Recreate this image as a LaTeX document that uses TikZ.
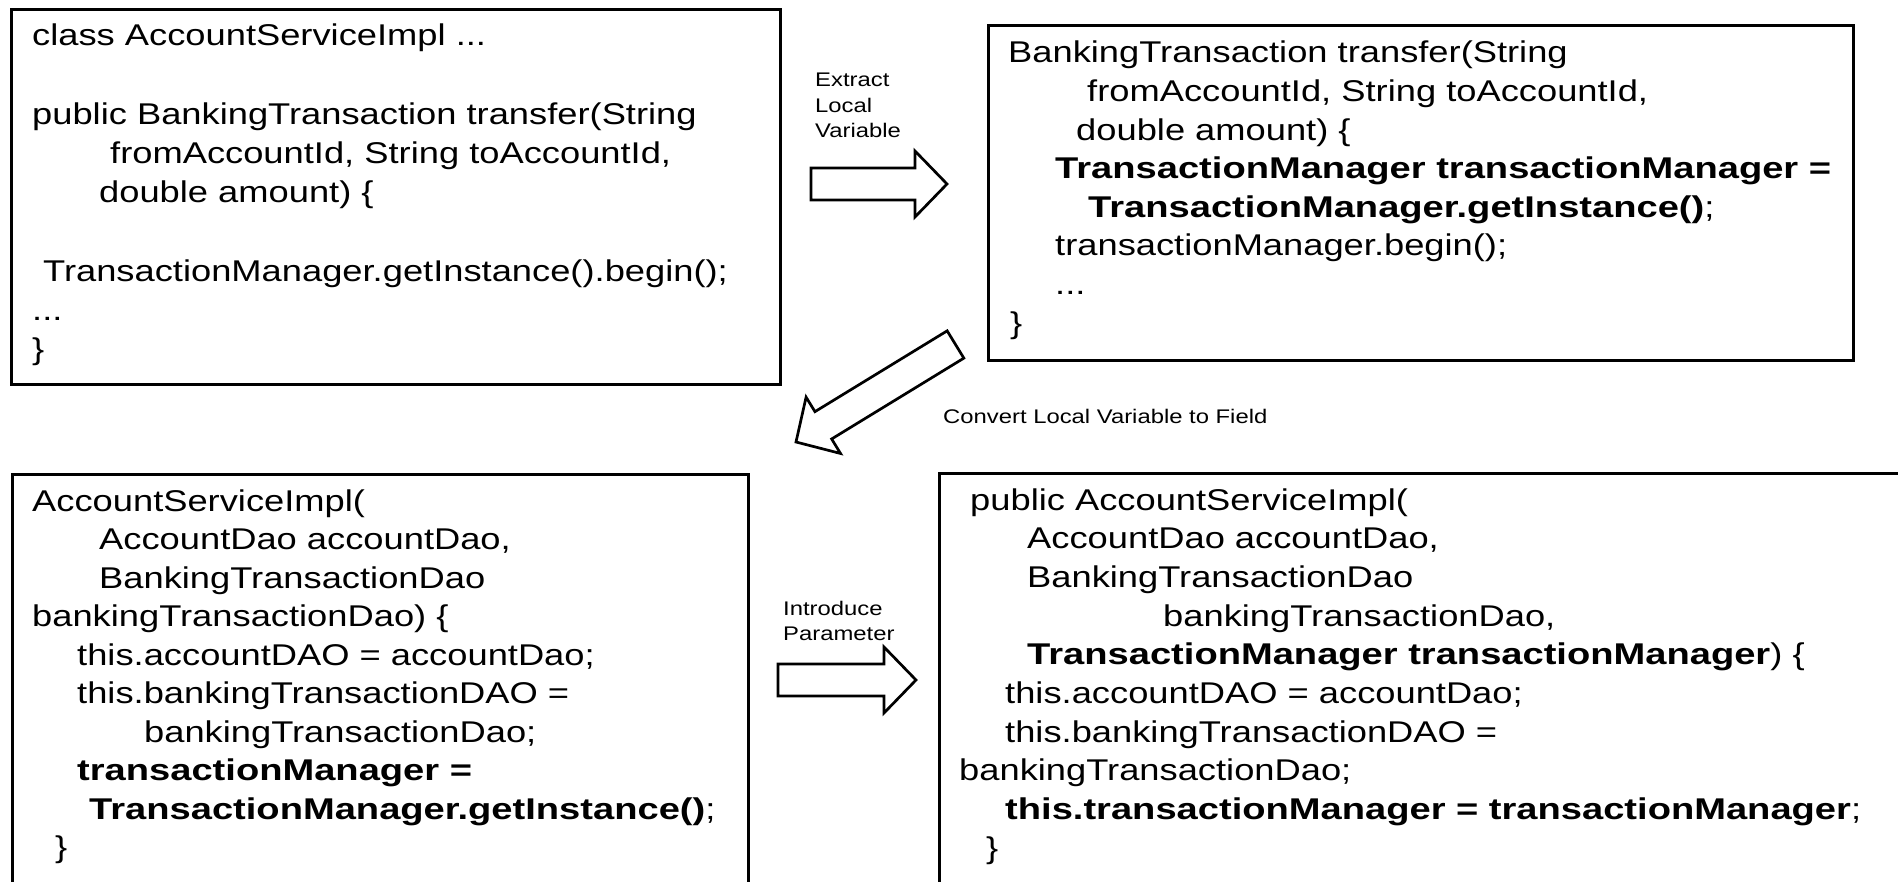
\documentclass[tikz,border=0pt]{standalone}
\usepackage{fontspec}
\setmainfont{Liberation Sans}[FakeStretch=1.21]
\newfontfamily\widebold{Liberation Sans}[FakeStretch=1.27]
\usetikzlibrary{calc}

\tikzset{
  frame/.style={draw=black, line width=2.7pt, fill=none, inner sep=0pt},
  codetext/.style={anchor=base west, inner sep=0pt, font=\fontsize{30}{#1}\selectfont},
  steplabel/.style={anchor=base west, inner sep=0pt, font=\fontsize{19.7}{25.5}\selectfont},
  blockarrow/.style={draw=black, line width=2.7pt, fill=white, line join=miter},
}

% code listing helpers
\newcommand{\boldcode}[1]{{\widebold\bfseries #1}}
\newcommand{\codelines}[1]{\begin{tabular}[t]{@{}l@{}}#1\end{tabular}}
\newcommand{\indentby}[1]{\hspace*{#1pt}}

% hollow block arrow from a tail coordinate to a tip coordinate
\newcommand{\drawblockarrow}[2]{%
  \coordinate (#1-hb) at ($(#2)!32pt!(#1)$);
  \draw[blockarrow] ($(#1)!16pt!90:(#2)$) -- ($(#1-hb)!16pt!-90:(#1)$)
    -- ($(#1-hb)!33pt!-90:(#1)$) -- (#2) -- ($(#1-hb)!33pt!90:(#1)$)
    -- ($(#1-hb)!16pt!90:(#1)$) -- ($(#1)!16pt!-90:(#2)$) -- cycle;}

\begin{document}
\begin{tikzpicture}[x=1pt, y=-1pt]
\useasboundingbox (0,0) rectangle (1898,882);
\clip (0,0) rectangle (1898,882);

% frames
\node[frame, anchor=north west, minimum width=769pt, minimum height=375pt] (box1) at (10,8) {};
\node[frame, anchor=north west, minimum width=865pt, minimum height=335pt] (box2) at (987,24) {};
\node[frame, anchor=north west, minimum width=736pt, minimum height=440pt] (box3) at (11,473) {};
\node[frame, anchor=north west, minimum width=1000pt, minimum height=440pt] (box4) at (938,472) {};

% original method
\node[codetext=39.2] (code1) at (32,46) {\codelines{%
class AccountServiceImpl ...\\
\\
public BankingTransaction transfer(String\\
\indentby{78}fromAccountId, String toAccountId,\\
\indentby{67}double amount) \{\\
\\
\indentby{11}TransactionManager.getInstance().begin();\\
...\\
\}}};

% after extracting the local variable
\node[codetext=38.6] (code2) at (1008,63) {\codelines{%
BankingTransaction transfer(String\\
\indentby{79}fromAccountId, String toAccountId,\\
\indentby{68}double amount) \{\\
\indentby{47}\boldcode{TransactionManager transactionManager =}\\
\indentby{80}\boldcode{TransactionManager.getInstance()};\\
\indentby{47}transactionManager.begin();\\
\indentby{47}...\\
\indentby{2}\}}};

% constructor after converting to a field
\node[codetext=38.5] (code3) at (32,511) {\codelines{%
AccountServiceImpl(\\
\indentby{67}AccountDao accountDao,\\
\indentby{67}BankingTransactionDao\\
bankingTransactionDao) \{\\
\indentby{45}this.accountDAO = accountDao;\\
\indentby{45}this.bankingTransactionDAO =\\
\indentby{112}bankingTransactionDao;\\
\indentby{45}\boldcode{transactionManager =}\\
\indentby{57}\boldcode{TransactionManager.getInstance()};\\
\indentby{23}\}}};

% constructor after introducing the parameter
\node[codetext=38.7] (code4) at (959,510) {\codelines{%
\indentby{11}public AccountServiceImpl(\\
\indentby{68}AccountDao accountDao,\\
\indentby{68}BankingTransactionDao\\
\indentby{204}bankingTransactionDao,\\
\indentby{68}\boldcode{TransactionManager transactionManager}) \{\\
\indentby{46}this.accountDAO = accountDao;\\
\indentby{46}this.bankingTransactionDAO =\\
bankingTransactionDao;\\
\indentby{46}\boldcode{this.transactionManager = transactionManager};\\
\indentby{27}\}}};

% refactoring steps
\coordinate (a1tail) at (811,184);
\coordinate (a1tip) at (947,184);
\coordinate (a2tail) at (955.5,344.5);
\coordinate (a2tip) at (796,442);
\coordinate (a3tail) at (778,680);
\coordinate (a3tip) at (916,680);

\drawblockarrow{a1tail}{a1tip}
\drawblockarrow{a2tail}{a2tip}
\drawblockarrow{a3tail}{a3tip}

\node[steplabel] (step1) at (815,87) {\codelines{Extract\\Local\\Variable}};
\node[steplabel] (step2) at (943,423) {Convert Local Variable to Field};
\node[steplabel] (step3) at (783,615) {\codelines{Introduce\\Parameter}};
\end{tikzpicture}
\end{document}
